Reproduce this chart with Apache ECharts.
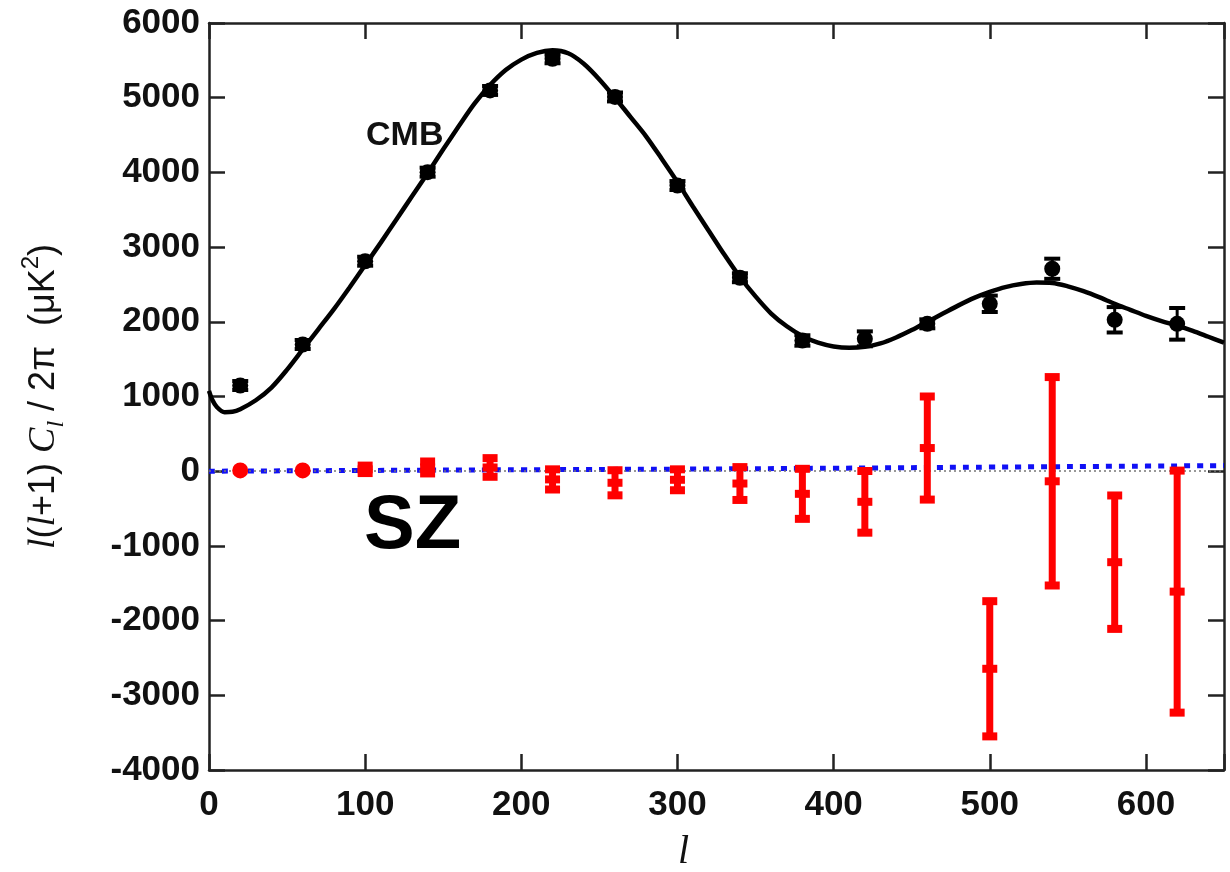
<!DOCTYPE html>
<html><head><meta charset="utf-8">
<script src="https://cdn.jsdelivr.net/npm/echarts@6/dist/echarts.min.js"></script>
<style>html,body{margin:0;padding:0;background:#fff}#c{width:1230px;height:872px}</style>
</head><body><div id="c"></div>
<script>
// ---- data ----
const multipoleL = [20, 60, 100, 140, 180, 220, 260, 300, 340, 380, 420, 460, 500, 540, 580, 620];
const cmbValues = [1147, 1696, 2811, 4003, 5097, 5521, 5010, 3824, 2590, 1750, 1772, 1973, 2241, 2710, 2027, 1973];
const cmbErrors = [60, 60, 60, 60, 60, 60, 60, 60, 60, 70, 100, 60, 110, 135, 170, 212];
const szValues = [10, 10, 25, 50, 50, -110, -155, -115, -165, -303, -410, 310, -2645, -135, -1218, -1612];
const szErrors = [30, 30, 50, 80, 125, 135, 168, 140, 220, 335, 413, 690, 905, 1395, 893, 1620];
const theoryL = [0, 2, 5, 10, 15, 20, 30, 40, 50, 60, 70, 80, 90, 100, 110, 120, 130, 140, 150, 160, 170, 180, 190, 200, 210, 220, 230, 240, 250, 260, 270, 280, 290, 300, 310, 320, 330, 340, 350, 360, 370, 380, 390, 400, 410, 420, 430, 440, 450, 460, 470, 480, 490, 500, 510, 520, 530, 540, 550, 560, 570, 580, 590, 600, 610, 620, 630, 640, 650];
const theoryValues = [1075, 960, 860, 790, 795, 830, 950, 1120, 1360, 1630, 1900, 2170, 2460, 2760, 3060, 3370, 3680, 3990, 4310, 4620, 4920, 5170, 5370, 5510, 5600, 5635, 5595, 5455, 5245, 5000, 4740, 4480, 4180, 3870, 3540, 3220, 2900, 2600, 2340, 2110, 1940, 1810, 1720, 1670, 1652, 1665, 1710, 1790, 1890, 2000, 2110, 2220, 2320, 2400, 2465, 2505, 2525, 2520, 2475, 2410, 2330, 2240, 2160, 2080, 2010, 1950, 1880, 1800, 1720];
const szModelL = [0, 100, 200, 300, 400, 500, 600, 650];
const szModelValues = [0, 10, 20, 28, 40, 55, 68, 75];
const xTickLabels = [0, 100, 200, 300, 400, 500, 600];
const yTickLabels = [-4000, -3000, -2000, -1000, 0, 1000, 2000, 3000, 4000, 5000, 6000];

// ---- build ----
const cmbData = multipoleL.map((l, i) => [l, cmbValues[i], cmbValues[i] - cmbErrors[i], cmbValues[i] + cmbErrors[i]]);
const szData = multipoleL.map((l, i) => [l, szValues[i], szValues[i] - szErrors[i], szValues[i] + szErrors[i]]);
const theoryData = theoryL.map((l, i) => [l, theoryValues[i]]);
const szModelData = szModelL.map((l, i) => [l, szModelValues[i]]);

function errRenderer(color, lineW, capW, capH, centerShape) {
  return function (params, api) {
    const c = api.coord([api.value(0), api.value(1)]);
    const lo = api.coord([api.value(0), api.value(2)]);
    const hi = api.coord([api.value(0), api.value(3)]);
    const st = { fill: color, stroke: null };
    const half = (lo[1] - hi[1]) / 2;
    if (centerShape === 'rect' && half < 3) {
      return { type: 'circle', shape: { cx: c[0], cy: c[1], r: 8 }, style: st };
    }
    const children = [
      { type: 'rect', shape: { x: c[0] - lineW / 2, y: hi[1], width: lineW, height: lo[1] - hi[1] }, style: st },
      { type: 'rect', shape: { x: c[0] - capW / 2, y: hi[1] - capH / 2, width: capW, height: capH }, style: st },
      { type: 'rect', shape: { x: c[0] - capW / 2, y: lo[1] - capH / 2, width: capW, height: capH }, style: st }
    ];
    if (centerShape === 'circle') {
      children.push({ type: 'circle', shape: { cx: c[0], cy: c[1], r: 8 }, style: st });
    } else {
      children.push({ type: 'rect', shape: { x: c[0] - capW / 2, y: c[1] - capH / 2, width: capW, height: capH }, style: st });
    }
    return { type: 'group', children };
  };
}

const axisCol = '#222';
const labelFont = { fontFamily: '"Liberation Sans", Arial, sans-serif', fontWeight: 'bold', fontSize: 35, color: '#111' };

const chart = echarts.init(document.getElementById('c'));
chart.setOption({
  animation: false,
  backgroundColor: '#fff',
  grid: { left: 209, right: 6, top: 23, bottom: 102, containLabel: false, outerBoundsMode: 'none' },
  xAxis: [{
    type: 'value', min: 0, max: 650, interval: 100, position: 'bottom',
    axisLine: { show: true, onZero: false, lineStyle: { color: axisCol, width: 2.5 } },
    axisTick: { show: true, inside: true, length: 16, lineStyle: { color: axisCol, width: 2.5 } },
    splitLine: { show: false },
    axisLabel: Object.assign({ margin: 18, formatter: v => xTickLabels.includes(v) ? String(v) : '' }, labelFont),
    name: '{i|l}', nameLocation: 'middle', nameGap: 62,
    nameTextStyle: { padding: [0, 66, 0, 0], rich: { i: { fontFamily: '"Liberation Serif", serif', fontStyle: 'italic', fontSize: 40, color: '#111' } } }
  }, {
    type: 'value', min: 0, max: 650, interval: 100, position: 'top',
    axisLine: { show: true, onZero: false, lineStyle: { color: axisCol, width: 2.5 } },
    axisTick: { show: true, inside: true, length: 16, lineStyle: { color: axisCol, width: 2.5 } },
    splitLine: { show: false }, axisLabel: { show: false }
  }],
  yAxis: [{
    type: 'value', min: -4000, max: 6000, interval: 1000, position: 'left',
    axisLine: { show: true, onZero: false, lineStyle: { color: axisCol, width: 2.5 } },
    axisTick: { show: true, inside: true, length: 16, lineStyle: { color: axisCol, width: 2.5 } },
    splitLine: { show: false },
    axisLabel: Object.assign({ margin: 9, formatter: v => yTickLabels.includes(v) ? String(v) : '' }, labelFont),
    name: '{i|l}{r|(}{i|l}{r|+1) }{i|C}{sub|l}{r| / 2π  (μK}{sup|2}{r|)}',
    nameLocation: 'middle', nameRotate: 90, nameGap: 140,
    nameTextStyle: {
      rich: {
        i: { fontFamily: '"Liberation Serif", serif', fontStyle: 'italic', fontSize: 38, color: '#111', lineHeight: 50 },
        r: { fontFamily: '"Liberation Sans", Arial, sans-serif', fontSize: 36, color: '#111', lineHeight: 50 },
        sub: { fontFamily: '"Liberation Serif", serif', fontStyle: 'italic', fontSize: 24, color: '#111', lineHeight: 50, verticalAlign: 'bottom' },
        sup: { fontFamily: '"Liberation Sans", Arial, sans-serif', fontSize: 24, color: '#111', lineHeight: 50, verticalAlign: 'top' }
      }
    }
  }, {
    type: 'value', min: -4000, max: 6000, interval: 1000, position: 'right',
    axisLine: { show: true, onZero: false, lineStyle: { color: axisCol, width: 2.5 } },
    axisTick: { show: true, inside: true, length: 16, lineStyle: { color: axisCol, width: 2.5 } },
    splitLine: { show: false }, axisLabel: { show: false }
  }],
  series: [
    {
      name: 'SZ model', type: 'line', data: szModelData, symbol: 'none', smooth: true, z: 3,
      lineStyle: { color: '#1010f5', width: 5, type: [6, 7], cap: 'butt' },
      markLine: { silent: true, symbol: 'none', label: { show: false },
        lineStyle: { color: '#777', width: 1.5, type: [2, 3] }, data: [{ yAxis: 0 }] }
    },
    {
      name: 'CMB theory', type: 'line', data: theoryData, symbol: 'none', smooth: 0.3, z: 4,
      lineStyle: { color: '#000', width: 4.5 }
    },
    {
      name: 'CMB', type: 'custom', data: cmbData, z: 5,
      renderItem: errRenderer('#000', 3, 16, 4, 'circle')
    },
    {
      name: 'SZ', type: 'custom', data: szData, z: 6,
      renderItem: errRenderer('#ff0000', 7, 15, 8, 'rect')
    }
  ],
  graphic: [
    { type: 'text', x: 366, y: 136, style: { text: 'CMB', font: 'bold 34px "Liberation Sans", Arial, sans-serif', fill: '#111', verticalAlign: 'middle', align: 'left' } },
    { type: 'text', x: 364, y: 527, style: { text: 'SZ', font: 'bold 76px "Liberation Sans", Arial, sans-serif', fill: '#000', verticalAlign: 'middle', align: 'left' } }
  ]
});
</script>
</body></html>
